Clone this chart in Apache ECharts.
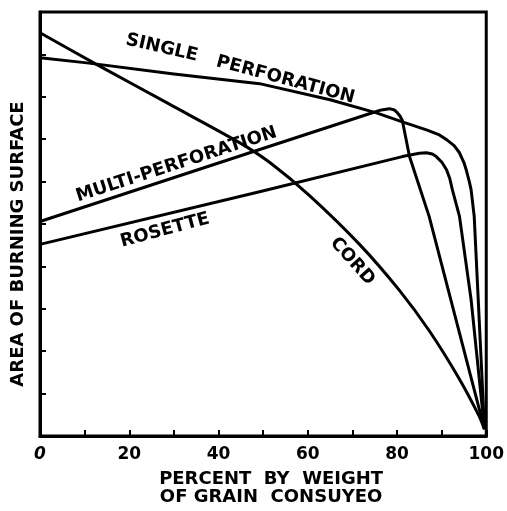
<!DOCTYPE html>
<html>
<head>
<meta charset="utf-8">
<script src="https://cdn.jsdelivr.net/npm/echarts@6/dist/echarts.min.js"></script>
<style>
  html, body { margin: 0; padding: 0; background: #fff; }
  #chart { width: 507px; height: 511px; }
</style>
</head>
<body>
<div id="chart"></div>
<script>
// Burning-surface curves: [percent of grain consumed, relative area]
const singlePerforation = [
  [0, 8.92], [10.5, 8.80], [30, 8.54], [49.2, 8.31], [65, 7.93], [75.4, 7.62],
  [81.2, 7.41], [86.6, 7.22], [89.5, 7.10], [91.1, 6.99], [92.8, 6.85],
  [94.0, 6.68], [95.0, 6.45], [95.5, 6.28], [96.2, 6.00], [96.6, 5.81],
  [97.3, 5.18], [98.2, 3.22], [99.6, 0.16]
];
const multiPerforation = [
  [0, 5.06], [20, 5.75], [47, 6.68], [73.8, 7.60], [76.5, 7.69], [78.3, 7.72],
  [79.4, 7.69], [80.1, 7.62], [80.7, 7.54], [81.2, 7.44], [82.8, 6.59],
  [87.2, 5.18], [99.6, 0.16]
];
const rosette = [
  [0, 4.52], [49.2, 5.76], [81.2, 6.59], [85.0, 6.67], [86.6, 6.68],
  [87.9, 6.65], [88.8, 6.59], [90.1, 6.45], [91.1, 6.28], [91.8, 6.08],
  [92.4, 5.81], [94.0, 5.18], [96.6, 3.22], [99.6, 0.16]
];
const cord = [
  [0, 9.51], [12.75, 8.76], [29.1, 7.82], [44.7, 6.92], [51.5, 6.45],
  [60.4, 5.67], [71.6, 4.52], [80.5, 3.44], [87.3, 2.47], [94.0, 1.34],
  [98.4, 0.47], [99.6, 0.16]
];

// Curve names written along the lines: [text, x, y, rotation]
const curveLabels = [
  ['SINGLE', 27.3, 9.15, -13],
  ['PERFORATION', 55.0, 8.40, -15],
  ['MULTI-PERFORATION', 30.6, 6.40, 18],
  ['ROSETTE', 28.0, 4.85, 15],
  ['CORD', 70.0, 4.12, -48]
];

const xTitle = 'PERCENT  BY  WEIGHT\nOF GRAIN  CONSUYEO';
const yTitle = 'AREA OF BURNING SURFACE';

const FONT = 'DejaVu Sans';
const INK = '#000';

const chart = echarts.init(document.getElementById('chart'));

function curve(name, data, smooth) {
  return {
    name: name,
    type: 'line',
    data: data,
    symbol: 'none',
    smooth: smooth,
    lineStyle: { color: INK, width: 3, join: 'round' },
    z: 3
  };
}

chart.setOption({
  animation: false,
  backgroundColor: '#fff',
  grid: {
    left: 40, right: 20, top: 12, bottom: 74,
    show: true, borderColor: INK, borderWidth: 3
  },
  xAxis: {
    type: 'value',
    min: 0, max: 100, interval: 10,
    axisLine: { lineStyle: { color: INK, width: 3 } },
    axisTick: { inside: true, length: 6, lineStyle: { color: INK, width: 2 } },
    splitLine: { show: false },
    axisLabel: {
      margin: 10,
      color: INK,
      fontFamily: FONT,
      fontWeight: 'bold',
      fontSize: 17,
      showMinLabel: true,
      showMaxLabel: true,
      formatter: function (v) {
        if (v === 0) return '{i|0}';
        return v % 20 === 0 ? String(v) : '';
      },
      rich: {
        i: { fontStyle: 'italic', fontFamily: FONT, fontWeight: 'bold', fontSize: 17, color: INK }
      }
    },
    name: xTitle,
    nameLocation: 'middle',
    nameGap: 34,
    nameTextStyle: {
      color: INK, fontFamily: FONT, fontWeight: 'bold', fontSize: 18,
      lineHeight: 18, padding: [0, 0, 0, 16]
    }
  },
  yAxis: {
    type: 'value',
    min: 0, max: 10, interval: 1,
    axisLine: { lineStyle: { color: INK, width: 3 } },
    axisTick: { inside: true, length: 6, lineStyle: { color: INK, width: 2 } },
    splitLine: { show: false },
    axisLabel: { show: false },
    name: yTitle,
    nameLocation: 'middle',
    nameGap: 13,
    nameRotate: 90,
    nameTextStyle: {
      color: INK, fontFamily: FONT, fontWeight: 'bold', fontSize: 18,
      padding: [0, 40, 0, 0]
    }
  },
  series: [
    curve('single', singlePerforation, false),
    curve('multi', multiPerforation, false),
    curve('rosette', rosette, false),
    curve('cord', cord, 0.25),
    {
      type: 'scatter',
      symbolSize: 0,
      silent: true,
      z: 4,
      itemStyle: { color: INK, opacity: 1 },
      data: curveLabels.map(function (l) {
        return { name: l[0], value: [l[1], l[2]], label: { rotate: l[3] } };
      }),
      label: {
        show: true,
        position: 'inside',
        formatter: '{b}',
        color: INK,
        opacity: 1,
        textBorderWidth: 0,
        textBorderColor: 'transparent',
        fontFamily: FONT,
        fontWeight: 'bold',
        fontSize: 18
      }
    }
  ]
});
</script>
</body>
</html>
